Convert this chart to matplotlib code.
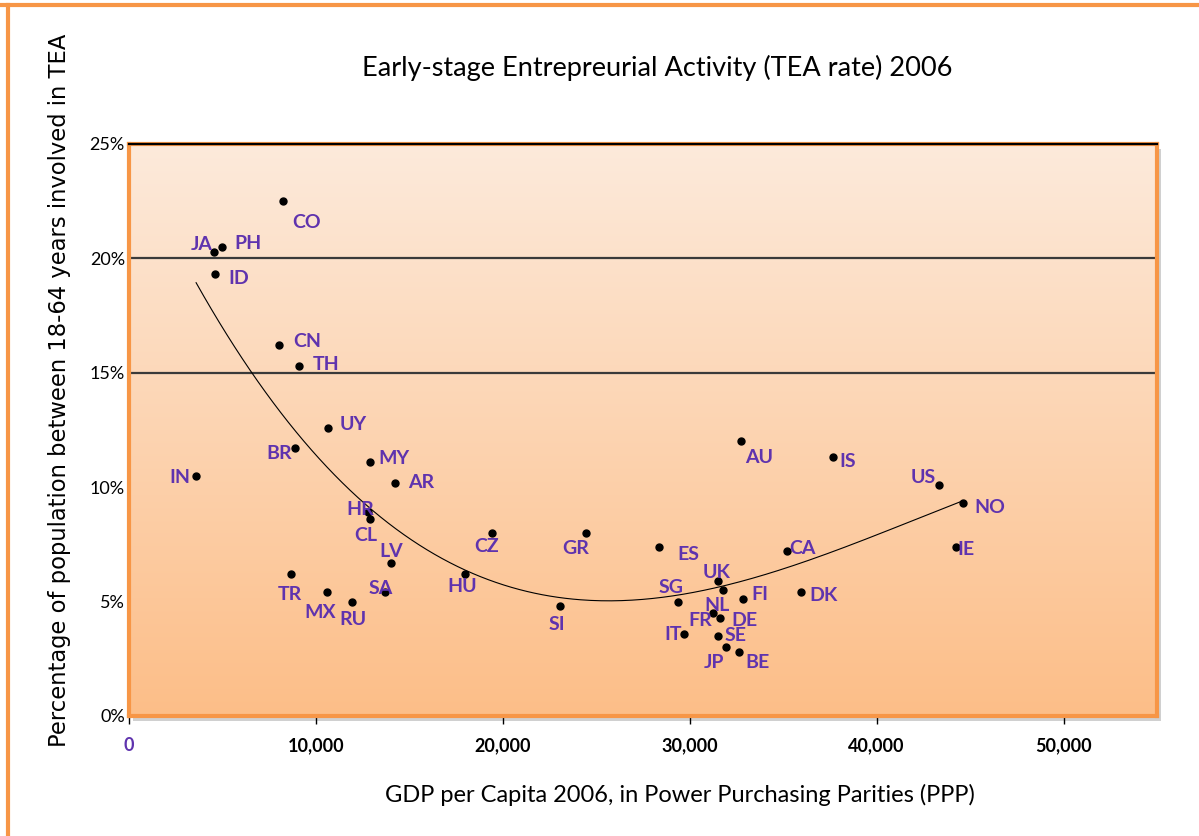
import numpy as np
import matplotlib.pyplot as plt
from matplotlib.patches import Rectangle
from matplotlib.lines import Line2D

# country codes, GDP per capita (PPP) and TEA rate (%)
codes = ["CO", "JA", "PH", "ID", "CN", "TH", "UY", "BR", "MY", "AR", "IN",
         "HR", "CL", "LV", "SA", "TR", "MX", "RU", "HU", "CZ", "GR", "SI",
         "ES", "CA", "UK", "NL", "SG", "FI", "DK", "FR", "DE", "IT", "SE",
         "JP", "BE", "AU", "IS", "US", "NO", "IE"]
gdp = [8230, 4550, 4990, 4600, 8050, 9080, 10640, 8890, 12900, 14250, 3590,
       12790, 12920, 14010, 13700, 8670, 10580, 11920, 18000, 19430, 24450, 23070,
       28350, 35190, 31510, 31800, 29350, 32850, 35940, 31220, 31600, 29710, 31490,
       31940, 32640, 32740, 37670, 43360, 44610, 44230]
tea = [22.5, 20.3, 20.5, 19.3, 16.2, 15.3, 12.6, 11.7, 11.1, 10.2, 10.5,
       8.9, 8.6, 6.7, 5.4, 6.2, 5.4, 5.0, 6.2, 8.0, 8.0, 4.8,
       7.4, 7.2, 5.9, 5.5, 5.0, 5.1, 5.4, 4.5, 4.3, 3.6, 3.5,
       3.0, 2.8, 12.0, 11.3, 10.1, 9.3, 7.4]

x_ticks = [0, 10000, 20000, 30000, 40000, 50000]
x_labels = ["0", "10,000", "20,000", "30,000", "40,000", "50,000"]
y_ticks = [0, 5, 10, 15, 20, 25]
y_labels = ["0%", "5%", "10%", "15%", "20%", "25%"]

# label offsets in pixels (dx, dy) from each point
offs = {"CO": (24, -21), "JA": (-12, 7), "PH": (26, 3), "ID": (24, -4),
        "CN": (28, 4), "TH": (27, 1), "UY": (25, 3), "BR": (-16, -5),
        "MY": (24, 4), "AR": (26, 0), "IN": (-16, -2), "HR": (-8, 3),
        "CL": (-5, -16), "LV": (0, 11), "SA": (-4, 4), "TR": (-1, -20),
        "MX": (-7, -20), "RU": (1, -18), "HU": (-3, -12), "CZ": (-6, -14),
        "GR": (-10, -16), "SI": (-3, -18), "ES": (29, -8), "CA": (16, 3),
        "UK": (-1, 9), "NL": (-6, -15), "SG": (-7, 14), "FI": (17, 5),
        "DK": (23, -3), "FR": (-12, -7), "DE": (25, -3), "IT": (-11, -1),
        "SE": (18, 0), "JP": (-12, -15), "BE": (18, -11), "AU": (18, -16),
        "IS": (15, -4), "US": (-16, 7), "NO": (27, -4), "IE": (10, -3)}

purple = "#5F33AE"
orange = "#F79646"

fig = plt.figure(figsize=(11.99, 8.36), dpi=100)
fig.patch.set_facecolor("white")

l, b, w, h = 129 / 1199, 1 - 716 / 836, (1157 - 129) / 1199, (716 - 144) / 836
# soft shadow behind the plot area
shadow = Rectangle((l + 4 / 1199, b - 5 / 836), w, h, transform=fig.transFigure,
                   facecolor="#d0d0d0", edgecolor="none", zorder=-5)
fig.add_artist(shadow)
ax = fig.add_axes([l, b, w, h])
ax.set_zorder(1)

# gradient fill
grad = np.linspace(0, 1, 256).reshape(-1, 1)
top = np.array([253, 234, 219]) / 255
bot = np.array([252, 190, 136]) / 255
img = top * (1 - grad[:, :, None]) + bot * grad[:, :, None]
ax.imshow(img, extent=[0, 1, 0, 1], transform=ax.transAxes, aspect="auto", zorder=0)

ax.set_xlim(0, 55000)
ax.set_ylim(0, 25)

for yv in [15, 20]:
    ax.axhline(yv, color="#3a3a3a", lw=1.6, zorder=1)
ax.axhline(25, color="black", lw=1.6, zorder=11, clip_on=False)

# polynomial trendline
coef = np.polyfit(gdp, tea, 3)
xs = np.linspace(min(gdp), max(gdp), 300)
ax.plot(xs, np.polyval(coef, xs), color="black", lw=0.8, zorder=2)

ax.plot(gdp, tea, "o", color="black", ms=5, zorder=4)

for c, xv, yv in zip(codes, gdp, tea):
    dx, dy = offs[c]
    ax.annotate(c, (xv, yv), xytext=(dx, dy), textcoords="offset pixels",
                ha="center", va="center", color=purple, fontsize=14,
                fontweight="bold", family="Lato", zorder=5)

for s in ax.spines.values():
    s.set_color(orange)
    s.set_linewidth(3)
    s.set_zorder(10)

ax.set_xticks(x_ticks)
ax.set_xticklabels(x_labels, fontsize=13, fontweight="bold", family="Lato")
ax.xaxis.get_ticklabels()[0].set_color(purple)
ax.tick_params(axis="x", length=6, width=1, color="black", pad=9)
ax.set_yticks(y_ticks)
ax.set_yticklabels(y_labels, fontsize=13, family="Lato")
ax.tick_params(axis="y", length=0, pad=3)

fig.text(0.548, 1 - 68 / 836, "Early-stage Entrepreurial Activity (TEA rate) 2006",
         ha="center", va="center", fontsize=19.5, family="Lato")
fig.text(0.567, 1 - 795 / 836, "GDP per Capita 2006, in Power Purchasing Parities (PPP)",
         ha="center", va="center", fontsize=17, family="Lato")
fig.text(60 / 1199, 1 - 390 / 836,
         "Percentage of population between 18-64 years involved in TEA",
         ha="center", va="center", rotation=90, fontsize=16.3, family="DejaVu Sans")

# outer orange frame (top and left)
fig.add_artist(Line2D([0, 1], [1 - 5 / 836, 1 - 5 / 836], color=orange, lw=3,
                      transform=fig.transFigure))
fig.add_artist(Line2D([8 / 1199, 8 / 1199], [0, 1 - 5 / 836], color=orange, lw=3,
                      transform=fig.transFigure))

fig.savefig("out.png", dpi=100)
